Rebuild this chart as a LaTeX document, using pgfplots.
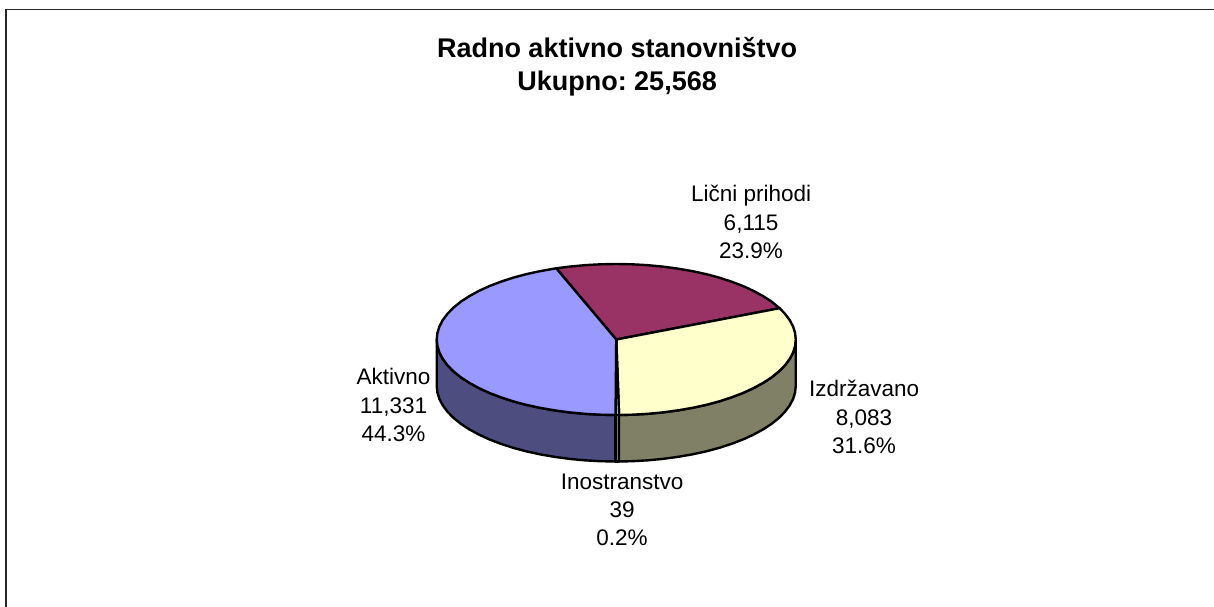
\documentclass[border=0pt]{standalone}
\usepackage{pgfplots}
\pgfplotsset{compat=1.18}
\usepackage{fontspec}
\setmainfont{Liberation Sans}
\definecolor{cA}{HTML}{9999FF}
\definecolor{cAw}{HTML}{4D4D80}
\definecolor{cL}{HTML}{993366}
\definecolor{cI}{HTML}{FFFFCC}
\definecolor{cIw}{HTML}{808066}
\definecolor{cO}{HTML}{CCFFFF}
\definecolor{cOw}{HTML}{668080}
\tikzset{lbl/.style={font=\fontsize{22.5}{28.3}\selectfont, align=center, inner sep=0pt, anchor=center}}
\begin{document}
\frenchspacing
\begin{tikzpicture}
\path[use as bounding box] (0,0) rectangle (1214pt,606pt);
\begin{axis}[
  at={(0,0)}, anchor=south west,
  scale only axis, width=1214pt, height=606pt,
  xmin=-616.2, xmax=597.8, ymin=-266.5, ymax=339.5,
  hide axis, clip=true,
  every axis plot/.append style={draw=black, line width=2.4pt, line join=round, mark=none},
]
% frame
\addplot[line width=1.9pt, draw=black!85, line join=miter] coordinates {(-610.2,-270) (-610.2,330) (600,330)};
% walls
\addplot[fill=cAw] coordinates {(-179.5,0) (-178.8,-6.6) (-176.8,-13.1) (-173.4,-19.5) (-168.7,-25.8) (-162.7,-31.9) (-155.5,-37.75) (-147,-43.3) (-137.5,-48.5) (-126.9,-53.4) (-115.4,-57.8) (-103,-61.85) (-89.75,-65.4) (-75.9,-68.4) (-61.4,-70.9) (-46.5,-72.9) (-31.2,-74.35) (-15.7,-75.2) (-0.7,-75.5)
 (-0.7,-122) (-15.7,-121.7) (-31.2,-120.85) (-46.5,-119.4) (-61.4,-117.4) (-75.9,-114.9) (-89.75,-111.9) (-103,-108.35) (-115.4,-104.3) (-126.9,-99.9) (-137.5,-95) (-147,-89.8) (-155.5,-84.25) (-162.7,-78.4) (-168.7,-72.3) (-173.4,-66) (-176.8,-59.6) (-178.8,-53.1) (-179.5,-46.5)} -- cycle;
\addplot[fill=cIw] coordinates {(179.5,0) (178.8,-6.6) (176.8,-13.1) (173.4,-19.5) (168.7,-25.8) (162.7,-31.9) (155.5,-37.75) (147,-43.3) (137.5,-48.5) (126.9,-53.4) (115.4,-57.8) (103,-61.85) (89.75,-65.4) (75.9,-68.4) (61.4,-70.9) (46.5,-72.9) (31.2,-74.35) (15.7,-75.2) (2.8,-75.5)
 (2.8,-122) (15.7,-121.7) (31.2,-120.85) (46.5,-119.4) (61.4,-117.4) (75.9,-114.9) (89.75,-111.9) (103,-108.35) (115.4,-104.3) (126.9,-99.9) (137.5,-95) (147,-89.8) (155.5,-84.25) (162.7,-78.4) (168.7,-72.3) (173.4,-66) (176.8,-59.6) (178.8,-53.1) (179.5,-46.5)} -- cycle;
\addplot[fill=cOw] coordinates {(-0.7,-75.5) (2.8,-75.5) (2.8,-122) (-0.7,-122)} -- cycle;
% top faces
\addplot[fill=cL] coordinates {(0,0) (-60,71.2) (-46.5,72.9) (-31.2,74.35) (-15.7,75.2) (0,75.5) (15.7,75.2) (31.2,74.35) (46.5,72.9) (61.4,70.9) (75.9,68.4) (89.75,65.4) (103,61.85) (115.4,57.8) (126.9,53.4) (137.5,48.5) (147,43.3) (155.5,37.75) (163.3,31.3)} -- cycle;
\addplot[fill=cI] coordinates {(0,0) (163.3,31.3) (168.7,25.8) (173.4,19.5) (176.8,13.1) (178.8,6.6) (179.5,0) (178.8,-6.6) (176.8,-13.1) (173.4,-19.5) (168.7,-25.8) (162.7,-31.9) (155.5,-37.75) (147,-43.3) (137.5,-48.5) (126.9,-53.4) (115.4,-57.8) (103,-61.85) (89.75,-65.4) (75.9,-68.4) (61.4,-70.9) (46.5,-72.9) (31.2,-74.35) (15.7,-75.2) (2.8,-75.5)} -- cycle;
\addplot[fill=cO] coordinates {(0,0) (2.8,-75.5) (-0.7,-75.5)} -- cycle;
\addplot[fill=cA] coordinates {(0,0) (-0.7,-75.5) (-15.7,-75.2) (-31.2,-74.35) (-46.5,-72.9) (-61.4,-70.9) (-75.9,-68.4) (-89.75,-65.4) (-103,-61.85) (-115.4,-57.8) (-126.9,-53.4) (-137.5,-48.5) (-147,-43.3) (-155.5,-37.75) (-162.7,-31.9) (-168.7,-25.8) (-173.4,-19.5) (-176.8,-13.1) (-178.8,-6.6) (-179.5,0) (-178.8,6.6) (-176.8,13.1) (-173.4,19.5) (-168.7,25.8) (-162.7,31.9) (-155.5,37.75) (-147,43.3) (-137.5,48.5) (-126.9,53.4) (-115.4,57.8) (-103,61.85) (-89.75,65.4) (-75.9,68.4) (-60,71.2)} -- cycle;
% labels
\node[align=center, inner sep=0pt, font=\fontsize{27}{33}\selectfont\bfseries] at (axis cs:0.8,273) {Radno aktivno stanovništvo\\Ukupno: 25,568};
\node[lbl] at (axis cs:134.8,117.5) {Lični prihodi\\6,115\\23.9\%};
\node[lbl] at (axis cs:247.8,-77.5) {Izdržavano\\8,083\\31.6\%};
\node[lbl] at (axis cs:-222.7,-65.5) {Aktivno\\11,331\\44.3\%};
\node[lbl] at (axis cs:5.8,-170.5) {Inostranstvo\\39\\0.2\%};
\end{axis}
\end{tikzpicture}
\end{document}
